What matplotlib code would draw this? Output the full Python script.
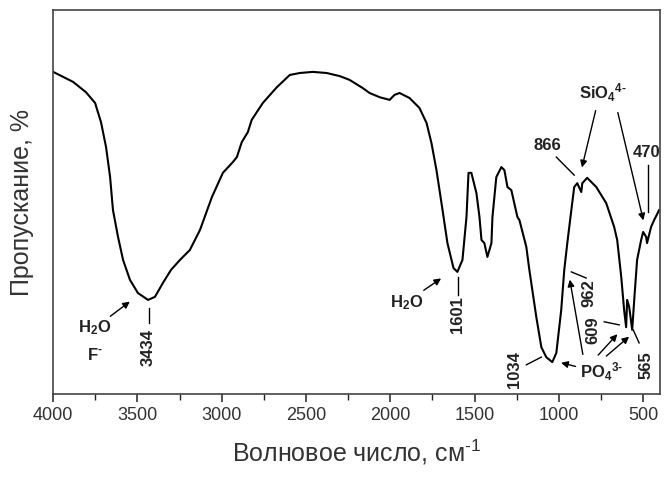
import numpy as np
import matplotlib.pyplot as plt
from matplotlib.ticker import MultipleLocator

plt.rcParams['font.family'] = ['Liberation Sans', 'DejaVu Sans']
plt.rcParams['mathtext.fontset'] = 'custom'
plt.rcParams['mathtext.rm'] = 'Liberation Sans'
plt.rcParams['mathtext.bf'] = 'Liberation Sans:bold'

# IR spectrum: wavenumber (cm-1) and transmission (arb. %)
wavenumber = [4000, 3882, 3805, 3751, 3716, 3686, 3662, 3645, 3615, 3585,
              3544, 3497, 3437, 3396, 3349, 3301, 3248, 3189, 3129, 3058,
              2993, 2934, 2910, 2881, 2845, 2822, 2756, 2673, 2596, 2537,
              2460, 2377, 2300, 2241, 2164, 2123, 2063, 2004, 1975, 1945,
              1886, 1827, 1785, 1756, 1726, 1690, 1661, 1625, 1602, 1572,
              1548, 1536, 1519, 1489, 1471, 1459, 1442, 1424, 1400, 1394,
              1371, 1341, 1323, 1305, 1282, 1246, 1234, 1193, 1175, 1134,
              1104, 1075, 1039, 1015, 986, 968, 950, 926, 909, 891,
              867, 861, 832, 778, 719, 672, 654, 630, 613, 601,
              595, 583, 565, 553, 536, 512, 500, 482, 477, 453, 435, 405]
transmission = [83.9, 81.3, 78.6, 75.8, 70.8, 64.3, 56.5, 47.9, 40.9, 34.9,
                29.7, 26.3, 24.5, 25.3, 28.9, 32.3, 34.9, 37.5, 42.7, 51.3,
                57.6, 60.4, 61.7, 65.6, 68.2, 71.4, 75.8, 79.9, 83.1, 83.6,
                83.9, 83.6, 82.8, 81.8, 79.7, 78.4, 77.3, 76.6, 77.9, 78.4,
                77.1, 74.5, 70.6, 65.4, 58.3, 47.9, 39.3, 32.8, 31.8, 34.9,
                46.1, 57.6, 57.6, 52.3, 46.1, 40.1, 39.3, 35.7, 39.3, 46.1,
                56.5, 59.1, 58.3, 53.9, 53.1, 46.1, 45.3, 38.3, 32.3, 20.1,
                12.2, 9.6, 8.3, 10.7, 21.9, 32.3, 39.3, 47.9, 53.9, 54.9,
                52.6, 54.9, 56.3, 53.9, 49.7, 43.5, 40.1, 30.5, 21.9, 17.4,
                24.5, 22.7, 16.7, 24.5, 34.9, 40.1, 42.2, 40.9, 39.3, 43.5, 45.3, 47.9]

# rotated peak labels and their leader lines (x0, y0, x1, y1)
peak_labels = ['3434', '1601', '1034', '962', '609', '565']
peak_pos = [(3434, 12.2), (1601, 20.6), (1264, 6.3), (820, 26.3), (796, 16.7), (482, 7.6)]
peak_lines = [(3434, 22.4, 3434, 18.5), (1601, 30.5, 1601, 25.8),
              (1193, 7.6, 1104, 9.6), (926, 31.8, 838, 30.2),
              (731, 18.8, 642, 18.0), (559, 16.7, 524, 13.3)]

fig = plt.figure(figsize=(6.64, 4.79), dpi=100)
ax = fig.add_axes([0.080, 0.1775, 0.914, 0.8015])

ax.plot(wavenumber, transmission, color='black', lw=1.5)

ax.set_xlim(4000, 400)
ax.set_ylim(0, 100)
ax.xaxis.set_major_locator(MultipleLocator(500))
ax.xaxis.set_minor_locator(MultipleLocator(250))
ax.tick_params(axis='x', which='major', direction='out', length=6, width=1.1,
               labelsize=13, colors='#222222', labelcolor='#333333')
ax.tick_params(axis='x', which='minor', direction='out', length=4, width=1.0,
               colors='#222222')
ax.set_yticks([])
for sp in ax.spines.values():
    sp.set_linewidth(1.2)
    sp.set_color('#444444')

ax.set_xlabel('Волновое число, см$^{\\mathrm{\u2010}1}$', fontsize=18,
              color='#333333', labelpad=10)
ax.set_ylabel('Пропускание, %', fontsize=18, color='#333333', labelpad=14)

txt = dict(fontsize=12, fontweight='bold', color='#222222', ha='center', va='center')
arrow = dict(arrowstyle='-|>', color='black', lw=1.0, mutation_scale=10)

for lab, (x, y) in zip(peak_labels, peak_pos):
    ax.text(x, y, lab, rotation=90, **txt)
for x0, y0, x1, y1 in peak_lines:
    ax.plot([x0, x1], [y0, y1], color='black', lw=1.0)

# water / fluoride band
ax.text(3751, 17.4, r'$\mathbf{H_2O}$', **txt)
ax.text(3751, 10.2, '$\\mathbf{F^{\u2010}}$', **txt)
ax.annotate('', xy=(3532, 24.5), xytext=(3674, 19.8), arrowprops=arrow)
ax.text(1904, 23.7, r'$\mathbf{H_2O}$', **txt)
ax.annotate('', xy=(1685, 30.5), xytext=(1815, 26.6), arrowprops=arrow)

# phosphate
ax.text(745, 5.7, '$\\mathbf{PO_4{}^{3\u2010}}$', **txt)
ax.annotate('', xy=(1003, 8.3), xytext=(885, 7.0), arrowprops=arrow)
ax.annotate('', xy=(938, 30.5), xytext=(855, 9.6), arrowprops=arrow)
ax.annotate('', xy=(642, 16.1), xytext=(778, 9.6), arrowprops=arrow)
ax.annotate('', xy=(571, 15.4), xytext=(731, 9.4), arrowprops=arrow)

# silicate
ax.text(1069, 64.8, '866', **txt)
ax.plot([1015, 909], [61.7, 57.0], color='black', lw=1.0)
ax.text(740, 78.6, '$\\mathbf{SiO_4{}^{4\u2010}}$', **txt)
ax.annotate('', xy=(867, 58.3), xytext=(778, 74.5), arrowprops=arrow)
ax.annotate('', xy=(495, 44.5), xytext=(654, 74.0), arrowprops=arrow)
ax.text(482, 62.8, '470', **txt)
ax.plot([471, 471], [59.6, 47.4], color='black', lw=1.0)

fig.savefig('out.png', dpi=100)
